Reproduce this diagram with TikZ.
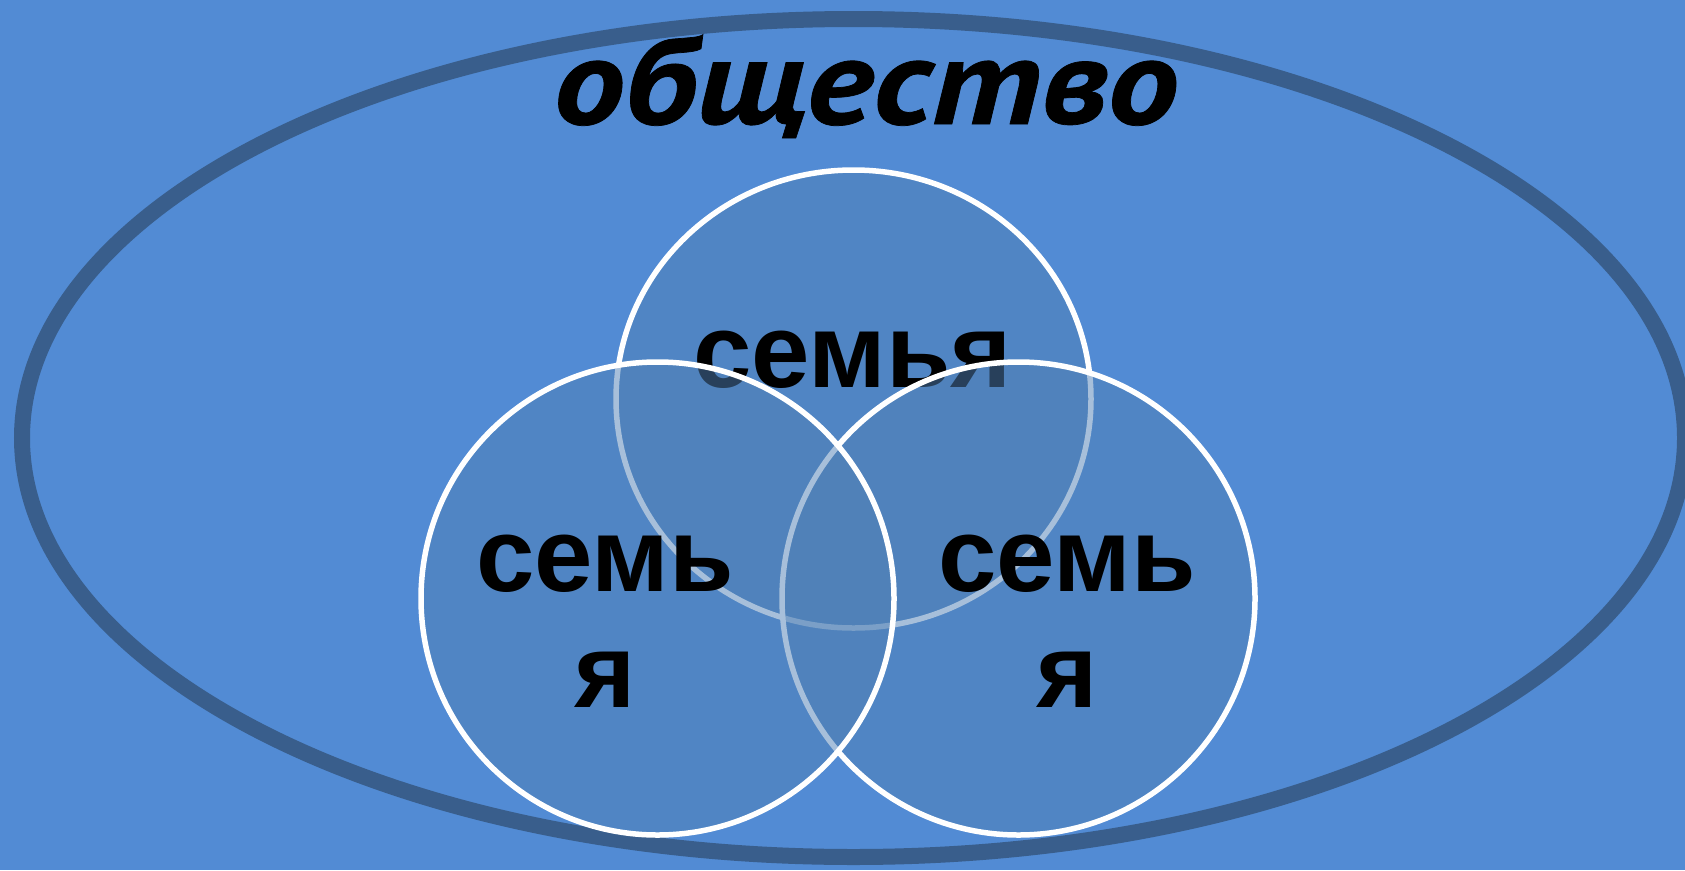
\documentclass[tikz,border=0pt]{standalone}
\usepackage{fontspec}
\setmainfont{Liberation Sans}
\newfontfamily\titlefont[FakeStretch=1.16, FakeBold=0.6]{PT Sans}
\definecolor{slideblue}{RGB}{82,139,212}
\definecolor{ringblue}{RGB}{57,94,140}
\definecolor{vennblue}{RGB}{80,129,182}
\begin{document}
\begin{tikzpicture}[x=1pt, y=-1pt,
    famcircle/.style={fill=vennblue, fill opacity=0.5, draw=white, draw opacity=1, line width=5.5pt},
    famlabel/.style={font=\fontsize{105}{116}\selectfont\bfseries, align=center, anchor=base, inner sep=0pt}]

  % -------------------------------------------------------
  % Units are pixels of the 1685 x 870 slide, y grows down
  % -------------------------------------------------------

  % Slide background
  \useasboundingbox (0, 0) rectangle (1685, 870);
  \fill[slideblue] (0, 0) rectangle (1685, 870);

  % Society ring
  \draw[ringblue, line width=16pt] (853.5, 438) ellipse [x radius=831.5pt, y radius=419pt];
  \node[font=\titlefont\fontsize{123}{130}\selectfont\bfseries\itshape, anchor=base, inner sep=0pt]
    (society) at (866, 124) {общество};

  % ---- top family ----
  \filldraw[famcircle] (853.5, 399) ellipse [x radius=237.5pt, y radius=229pt];
  \node[famlabel] (topfamily) at (852.5, 387) {семья};

  % ---- right family ----
  \filldraw[famcircle] (1018.5, 598.5) circle [radius=236.5pt];

  % ---- left family ----
  \filldraw[famcircle] (657.5, 598.5) circle [radius=236.5pt];

  % Labels of the lower families (base = last line)
  \node[famlabel] (leftfamily)  at (605, 707)  {семь\\я};
  \node[famlabel] (rightfamily) at (1067, 707) {семь\\я};

\end{tikzpicture}
\end{document}
